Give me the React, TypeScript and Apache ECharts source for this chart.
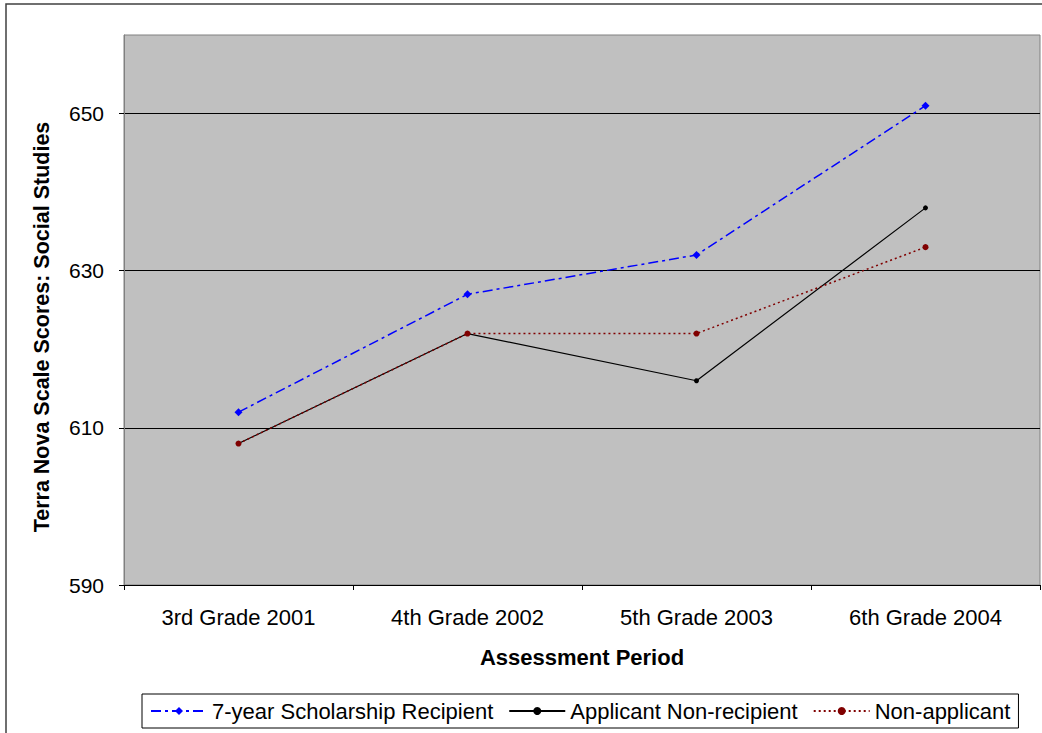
import React, { useEffect, useRef } from "react";
import * as echarts from "echarts";

const categories = ["3rd Grade 2001", "4th Grade 2002", "5th Grade 2003", "6th Grade 2004"];
const scholarship = [612, 627, 632, 651];
const applicantNonRecipient = [608, 622, 616, 638];
const nonApplicant = [608, 622, 622, 633];

const FONT = "'Liberation Sans', Arial, sans-serif";

export default function App() {
  const ref = useRef<HTMLDivElement>(null);
  useEffect(() => {
    const chart = echarts.init(ref.current!, null, { renderer: "svg" });
    chart.setOption({
      animation: false,
      backgroundColor: "#ffffff",
      textStyle: { fontFamily: FONT },
      graphic: [
        {
          type: "rect",
          shape: { x: 6, y: 4, width: 1100, height: 800 },
          style: { fill: "none", stroke: "#404040", lineWidth: 1.5 },
          silent: true,
          z: -1,
        },
      ],
      grid: {
        left: 124,
        top: 35,
        right: 2,
        bottom: 148,
        show: true,
        backgroundColor: "#c0c0c0",
        borderColor: "#808080",
        borderWidth: 1,
      },
      legend: {
        left: 142,
        top: 694,
        width: 880,
        orient: "horizontal",
        borderColor: "#000000",
        borderWidth: 1,
        padding: [6, 8, 6, 8],
        itemWidth: 56,
        itemHeight: 10,
        itemGap: 15,
        textStyle: { fontSize: 22, color: "#000", fontFamily: FONT },
        data: ["7-year Scholarship Recipient", "Applicant Non-recipient", "Non-applicant"],
      },
      xAxis: {
        type: "category",
        data: categories,
        boundaryGap: true,
        name: "Assessment Period",
        nameLocation: "middle",
        nameGap: 61,
        nameTextStyle: { fontSize: 22, fontWeight: "bold", color: "#000", fontFamily: FONT },
        axisLine: { show: true, lineStyle: { color: "#000", width: 1 } },
        axisTick: { show: true, alignWithLabel: false, length: 5, lineStyle: { color: "#000" } },
        axisLabel: { fontSize: 22, color: "#000", margin: 21, fontFamily: FONT },
        splitLine: { show: false },
      },
      yAxis: {
        type: "value",
        min: 590,
        max: 660,
        interval: 20,
        name: "Terra Nova Scale Scores: Social Studies",
        nameLocation: "middle",
        nameRotate: 90,
        nameGap: 71,
        nameTextStyle: {
          fontSize: 21.5,
          fontWeight: "bold",
          color: "#000",
          fontFamily: FONT,
          padding: [0, 34, 0, 0],
        },
        axisLine: { show: true, lineStyle: { color: "#808080", width: 1 } },
        axisTick: { show: true, length: 5, lineStyle: { color: "#000" } },
        axisLabel: { fontSize: 21, color: "#000", margin: 20, showMaxLabel: false, fontFamily: FONT },
        splitLine: { show: true, showMinLine: false, showMaxLine: false, lineStyle: { color: "#000", width: 1 } },
      },
      series: [
        {
          name: "7-year Scholarship Recipient",
          type: "line",
          data: scholarship,
          symbol: "diamond",
          symbolSize: 8,
          itemStyle: { color: "#0000ff" },
          lineStyle: { color: "#0000ff", width: 1.5, type: [10, 4, 3, 4] },
          z: 4,
        },
        {
          name: "Applicant Non-recipient",
          type: "line",
          data: applicantNonRecipient,
          symbol: "circle",
          symbolSize: 5,
          itemStyle: { color: "#000000" },
          lineStyle: { color: "#000000", width: 1.2, type: "solid" },
          z: 3,
        },
        {
          name: "Non-applicant",
          type: "line",
          data: nonApplicant,
          symbol: "circle",
          symbolSize: 6,
          itemStyle: { color: "#800000" },
          lineStyle: { color: "#800000", width: 1.5, type: [2, 3] },
          z: 5,
        },
      ],
    });
    return () => chart.dispose();
  }, []);
  return <div ref={ref} style={{ width: 1042, height: 733, position: "absolute", left: 0, top: 0 }} />;
}
